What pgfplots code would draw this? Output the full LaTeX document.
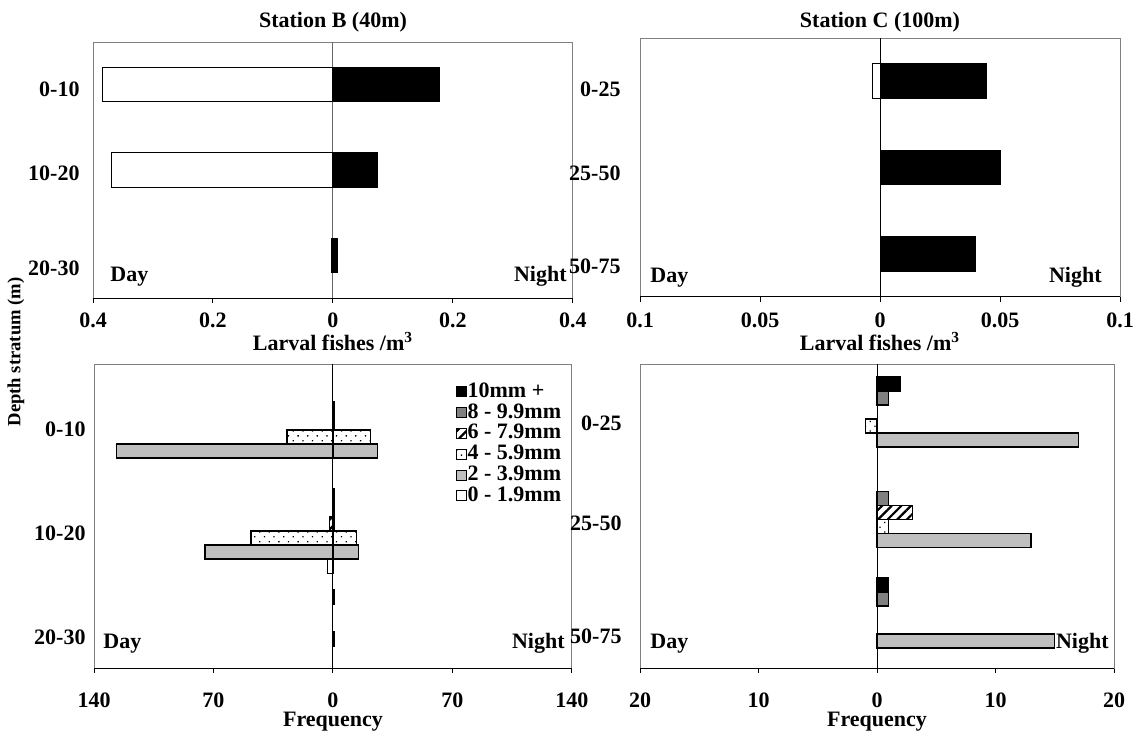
\documentclass[border=0pt]{standalone}
\usepackage{fontspec}
\setmainfont{Liberation Serif}
\usepackage{pgfplots}
\pgfplotsset{compat=1.18}
\usepackage{pgfplotstable}
\usetikzlibrary{patterns.meta}

% Station B, larval fishes per m^3 (day negative, night positive); cat 3 = 0-10 m
\pgfplotstableread{
cat day night
3 -0.385 0.178
2 -0.37 0.075
1 -0.003 0.008
}\tblTL
% Station C, larval fishes per m^3; cat 3 = 0-25 m
\pgfplotstableread{
cat day night
3 -0.0033 0.0445
2 0 0.05
1 0 0.0398
}\tblTR
% Station B, frequency by size class
\pgfplotstableread{
cat d10 n10 d8 n8 d6 n6 d4 n4 d2 n2 d0 n0
3 0 0 0 1 0 1 -27 22 -127 26 0 0
2 0 1 0 1 -2 1 -48 14 -75 15 -3 0
1 0 1 0 0 0 0 0 1 0 0 0 0
}\tblBL
% Station C, frequency by size class
\pgfplotstableread{
cat d10 n10 d8 n8 d6 n6 d4 n4 d2 n2 d0 n0
3 0 2 0 1 0 0 -1 0 0 17 0 0
2 0 0 0 1 0 3 0 1 0 13 0 0
1 0 1 0 1 0 0 0 0 0 15 0 0
}\tblBR

\newcommand{\lbl}{\bfseries\fontsize{11}{13}\selectfont}
\pgfplotsset{
  sqlegend/.style={legend image code/.code={\draw[##1, line width=0.4pt] (0pt,-2.5pt) rectangle (5pt,2.5pt);}},
  barT/.style={xbar, bar width=0.4, bar shift=0pt, draw=black, line width=0.5pt,
     x filter/.expression={x==0 ? nan : x}},
  barB/.style={xbar, bar width=0.139, bar shift=0pt, draw=black, line width=0.6pt,
     x filter/.expression={x==0 ? nan : x}, sqlegend},
  s10/.style={fill=black},
  s8/.style={fill=black!50},
  s6/.style={pattern={Lines[angle=45,distance=3.4pt,line width=1.1pt]}},
  s4/.style={pattern={Dots[angle=45,distance=3.4pt,radius=0.45pt]}},
  s2/.style={fill=black!25},
  s0/.style={fill=white},
  common/.style={scale only axis, anchor=north west, clip=false,
     axis line style={draw=black!50, line width=0.5pt},
     tick align=outside, xtick pos=bottom, major tick length=2.5pt,
     xtick style={draw=black, line width=0.5pt}, ytick style={draw=none},
     tick label style={font=\lbl}},
}

\begin{document}
\begin{tikzpicture}[font=\lbl]
\useasboundingbox (0,0) rectangle (574pt,-367pt);

% ---------- top left: Station B ----------
\begin{axis}[common, at={(46.5pt,-21pt)}, width=240pt, height=128pt,
  xmin=-0.4, xmax=0.4, ymin=0.5, ymax=3.5,
  xtick={-0.4,-0.2,0,0.2,0.4},
  xticklabels={\textbf{0.4},\textbf{0.2},\textbf{0},\textbf{0.2},\textbf{0.4}},
  ytick={0.85,1.965,2.95},
  yticklabels={\textbf{20-30},\textbf{10-20},\textbf{0-10}},
  xticklabel style={yshift=-1.6pt}, yticklabel style={xshift=-0.7pt}]
\draw[black!60, line width=0.5pt] (axis cs:0,0.5) -- (axis cs:0,3.5);
\addplot[barT, fill=white] table[x=day, y=cat] {\tblTL};
\addplot[barT, fill=black] table[x=night, y=cat] {\tblTL};
\draw[black, line width=0.5pt] (rel axis cs:0,0) -- (rel axis cs:1,0);
\end{axis}

% ---------- top right: Station C ----------
\begin{axis}[common, at={(320pt,-19pt)}, width=240pt, height=129.5pt,
  xmin=-0.1, xmax=0.1, ymin=0.5, ymax=3.5,
  xtick={-0.1,-0.05,0,0.05,0.1},
  xticklabels={\textbf{0.1},\textbf{0.05},\textbf{0},\textbf{0.05},\textbf{0.1}},
  ytick={0.86,1.93,2.91},
  yticklabels={\textbf{50-75},\textbf{25-50},\textbf{0-25}},
  xticklabel style={yshift=-2.1pt}, yticklabel style={xshift=-3.7pt}]
\draw[black, line width=0.5pt] (axis cs:0,0.5) -- (axis cs:0,3.5);
\addplot[barT, fill=white] table[x=day, y=cat] {\tblTR};
\addplot[barT, fill=black] table[x=night, y=cat] {\tblTR};
\draw[black, line width=0.5pt] (rel axis cs:0,0) -- (rel axis cs:1,0);
\end{axis}

% ---------- bottom left: Station B frequency ----------
\begin{axis}[common, at={(47pt,-182pt)}, width=239pt, height=152pt,
  xmin=-140, xmax=140, ymin=0.644, ymax=3.653,
  xtick={-140,-70,0,70,140},
  xticklabels={\textbf{140},\textbf{70},\textbf{0},\textbf{70},\textbf{140}},
  ytick={0.95,1.98,3.01},
  yticklabels={\textbf{20-30},\textbf{10-20},\textbf{0-10}},
  xticklabel style={yshift=-6.2pt}, yticklabel style={xshift=1.8pt},
  legend style={at={(rel axis cs:0.757,0.944)}, anchor=north west, draw=none, fill=none,
     inner sep=0pt, row sep=0pt, font=\lbl,
     nodes={inner sep=0.3pt, text height=7.6pt, text depth=2.2pt}},
  legend cell align=left]
\draw[black, line width=0.5pt] (axis cs:0,0.644) -- (axis cs:0,3.653);
\addplot[barB, s10] table[x=n10, y expr=\thisrow{cat}+0.3475] {\tblBL};
\addplot[barB, s8]  table[x=n8,  y expr=\thisrow{cat}+0.2085] {\tblBL};
\addplot[barB, s6]  table[x=n6,  y expr=\thisrow{cat}+0.0695] {\tblBL};
\addplot[barB, s4]  table[x=n4,  y expr=\thisrow{cat}-0.0695] {\tblBL};
\addplot[barB, s2]  table[x=n2,  y expr=\thisrow{cat}-0.2085] {\tblBL};
\addplot[barB, s0]  table[x=d0,  y expr=\thisrow{cat}-0.3475] {\tblBL};
\addplot[barB, s10, forget plot] table[x=d10, y expr=\thisrow{cat}+0.3475] {\tblBL};
\addplot[barB, s8,  forget plot] table[x=d8,  y expr=\thisrow{cat}+0.2085] {\tblBL};
\addplot[barB, s6,  forget plot] table[x=d6,  y expr=\thisrow{cat}+0.0695] {\tblBL};
\addplot[barB, s4,  forget plot] table[x=d4,  y expr=\thisrow{cat}-0.0695] {\tblBL};
\addplot[barB, s2,  forget plot] table[x=d2,  y expr=\thisrow{cat}-0.2085] {\tblBL};
\addplot[barB, s0,  forget plot] table[x=n0,  y expr=\thisrow{cat}-0.3475] {\tblBL};
\draw[black, line width=0.5pt] (rel axis cs:0,0) -- (rel axis cs:1,0);
\legend{10mm +, 8 - 9.9mm, 6 - 7.9mm, 4 - 5.9mm, 2 - 3.9mm, 0 - 1.9mm}
\end{axis}

% ---------- bottom right: Station C frequency ----------
\begin{axis}[common, at={(320pt,-182pt)}, width=237pt, height=152pt,
  xmin=-20, xmax=20, ymin=0.522, ymax=3.547,
  xtick={-20,-10,0,10,20},
  xticklabels={\textbf{20},\textbf{10},\textbf{0},\textbf{10},\textbf{20}},
  ytick={0.84,1.965,2.96},
  yticklabels={\textbf{50-75},\textbf{25-50},\textbf{0-25}},
  xticklabel style={yshift=-6.2pt}, yticklabel style={xshift=-3.2pt}]
\draw[black, line width=0.5pt] (axis cs:0,0.522) -- (axis cs:0,3.547);
\addplot[barB, s10] table[x=n10, y expr=\thisrow{cat}+0.3475] {\tblBR};
\addplot[barB, s8]  table[x=n8,  y expr=\thisrow{cat}+0.2085] {\tblBR};
\addplot[barB, s6]  table[x=n6,  y expr=\thisrow{cat}+0.0695] {\tblBR};
\addplot[barB, s4]  table[x=n4,  y expr=\thisrow{cat}-0.0695] {\tblBR};
\addplot[barB, s2]  table[x=n2,  y expr=\thisrow{cat}-0.2085] {\tblBR};
\addplot[barB, s0]  table[x=n0,  y expr=\thisrow{cat}-0.3475] {\tblBR};
\addplot[barB, s10] table[x=d10, y expr=\thisrow{cat}+0.3475] {\tblBR};
\addplot[barB, s8]  table[x=d8,  y expr=\thisrow{cat}+0.2085] {\tblBR};
\addplot[barB, s6]  table[x=d6,  y expr=\thisrow{cat}+0.0695] {\tblBR};
\addplot[barB, s4]  table[x=d4,  y expr=\thisrow{cat}-0.0695] {\tblBR};
\addplot[barB, s2]  table[x=d2,  y expr=\thisrow{cat}-0.2085] {\tblBR};
\addplot[barB, s0]  table[x=d0,  y expr=\thisrow{cat}-0.3475] {\tblBR};
\draw[black, line width=0.5pt] (rel axis cs:0,0) -- (rel axis cs:1,0);
\end{axis}

% ---------- titles and labels ----------
\node[anchor=base] at (166.5pt,-13.5pt) {Station B (40m)};
\node[anchor=base] at (440pt,-13.5pt) {Station C (100m)};
\node[anchor=base] at (166.5pt,-175pt) {Larval fishes /m\textsuperscript{3}};
\node[anchor=base] at (440pt,-175pt) {Larval fishes /m\textsuperscript{3}};
\node[anchor=base] at (166.5pt,-363pt) {Frequency};
\node[anchor=base] at (438.5pt,-363pt) {Frequency};
\node[rotate=90, font=\bfseries\fontsize{9.3}{11}\selectfont] at (8pt,-176pt) {Depth stratum (m)};

\node[anchor=base west, inner sep=0pt] at (55pt,-140.5pt) {Day};
\node[anchor=base east, inner sep=0pt] at (283.5pt,-140.5pt) {Night};
\node[anchor=base west, inner sep=0pt] at (325pt,-141pt) {Day};
\node[anchor=base east, inner sep=0pt] at (551pt,-141pt) {Night};
\node[anchor=base west, inner sep=0pt] at (51.5pt,-324pt) {Day};
\node[anchor=base east, inner sep=0pt] at (282.5pt,-324pt) {Night};
\node[anchor=base west, inner sep=0pt] at (325pt,-324pt) {Day};
\node[anchor=base east, inner sep=0pt] at (554.5pt,-324pt) {Night};
\end{tikzpicture}
\end{document}
